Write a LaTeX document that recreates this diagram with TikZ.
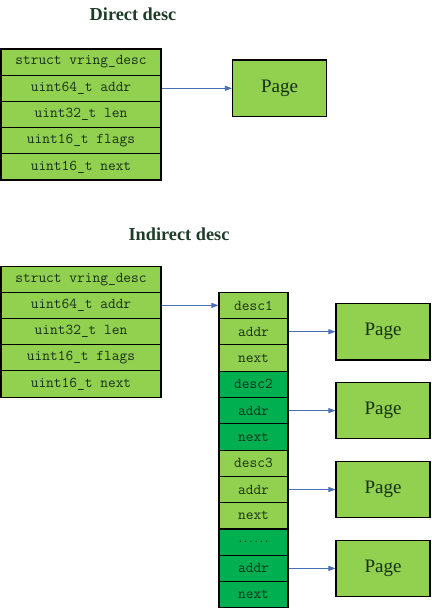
\documentclass[tikz,border=0pt]{standalone}
\usepackage{fontspec}
\setmainfont{Liberation Serif}
\usetikzlibrary{arrows.meta}
\definecolor{lightgrn}{HTML}{92D050}
\definecolor{darkgrn}{HTML}{00B050}
\definecolor{inkgrn}{HTML}{15301A}
\definecolor{titlegrn}{HTML}{1E3C28}
\definecolor{linkblue}{HTML}{4A6FB5}
\tikzset{
    field/.style={draw=black, line width=1.1pt, fill=lightgrn, text=inkgrn, inner sep=0pt,
        minimum width=160pt, minimum height=26.2pt, font=\fontsize{15}{16}\ttfamily},
    slot/.style={field, minimum width=69pt, minimum height=26.3pt},
    slotdark/.style={slot, fill=darkgrn},
    page/.style={draw=black, line width=1.1pt, fill=lightgrn, text=inkgrn, inner sep=0pt,
        minimum width=94pt, minimum height=56.5pt, font=\fontsize{19}{20}\selectfont},
    heading/.style={text=titlegrn, font=\fontsize{18.3}{20}\selectfont\bfseries},
    link/.style={draw=linkblue, line width=0.8pt, -{Triangle[length=7pt,width=5pt]}}
}
\begin{document}
\begin{tikzpicture}[x=1pt, y=-1pt]
            \useasboundingbox (0, 0) rectangle (431, 609);

            \node[heading] (directTitle) at (133, 14) {Direct desc};
            \node[field] (dStruct) at (81, 62.1) {struct vring\_desc};
            \node[field] (dAddr) at (81, 88.3) {uint64\_t addr};
            \node[field] (dLen) at (81, 114.5) {uint32\_t len};
            \node[field] (dFlags) at (81, 140.7) {uint16\_t flags};
            \node[field] (dNext) at (81, 166.9) {uint16\_t next};
            \node[page] (dPage) at (279.5, 88.3) {Page};

            \draw[link] (dAddr.east) -- (dPage.west);

            \node[heading] (indirectTitle) at (179, 234) {Indirect desc};
            \node[field] (iStruct) at (81, 279.2) {struct vring\_desc};
            \node[field] (iAddr) at (81, 305.4) {uint64\_t addr};
            \node[field] (iLen) at (81, 331.6) {uint32\_t len};
            \node[field] (iFlags) at (81, 357.8) {uint16\_t flags};
            \node[field] (iNext) at (81, 384.0) {uint16\_t next};

            \node[slot] (desc1) at (253.5, 305.4) {desc1};
            \node[slot] (addr1) at (253.5, 331.7) {addr};
            \node[slot] (next1) at (253.5, 358.0) {next};
            \node[slotdark] (desc2) at (253.5, 384.3) {desc2};
            \node[slotdark] (addr2) at (253.5, 410.6) {addr};
            \node[slotdark] (next2) at (253.5, 436.9) {next};
            \node[slot] (desc3) at (253.5, 463.2) {desc3};
            \node[slot] (addr3) at (253.5, 489.5) {addr};
            \node[slot] (next3) at (253.5, 515.8) {next};
            \node[slotdark, font=\fontsize{10}{10}\ttfamily\bfseries] (descN) at (253.5, 542.1) {......};
            \node[slotdark] (addrN) at (253.5, 568.4) {addr};
            \node[slotdark] (nextN) at (253.5, 594.7) {next};

            \node[page] (page1) at (383, 331.7) {Page};
            \node[page] (page2) at (383, 410.6) {Page};
            \node[page] (page3) at (383, 489.5) {Page};
            \node[page] (pageN) at (383, 568.4) {Page};

            \draw[link] (iAddr.east) -- (desc1.west);
            \draw[link] (addr1.east) -- (page1.west);
            \draw[link] (addr2.east) -- (page2.west);
            \draw[link] (addr3.east) -- (page3.west);
            \draw[link] (addrN.east) -- (pageN.west);
        \end{tikzpicture}
\end{document}
